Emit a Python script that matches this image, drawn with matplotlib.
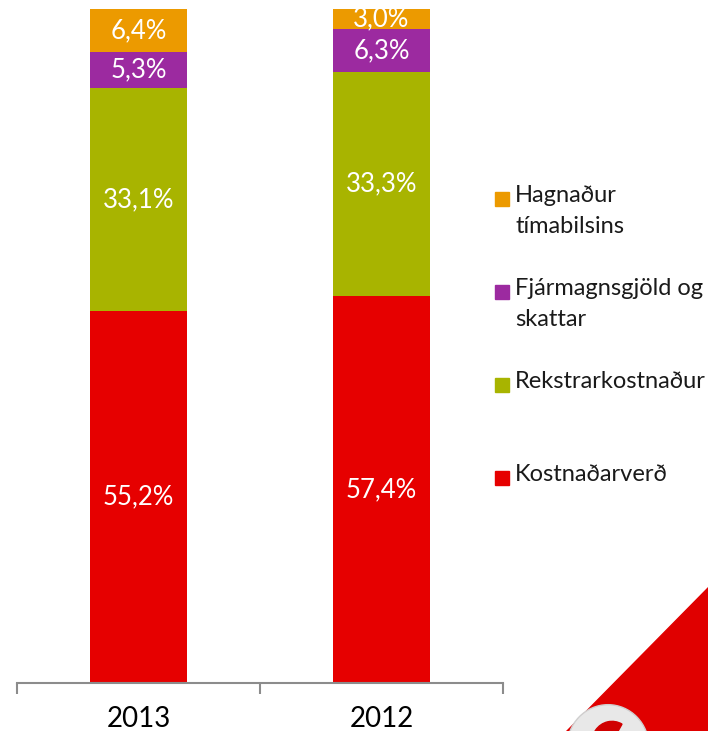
import matplotlib.pyplot as plt
from matplotlib.patches import Polygon, Circle, Rectangle, Wedge

plt.rcParams['font.family'] = ['Lato', 'DejaVu Sans']

years = ['2013', '2012']
series = ['Kostnaðarverð', 'Rekstrarkostnaður', 'Fjármagnsgjöld og\nskattar', 'Hagnaður\ntímabilsins']
kostnadarverd = [55.2, 57.4]
rekstrarkostnadur = [33.1, 33.3]
fjarmagnsgjold = [5.3, 6.3]
hagnadur = [6.4, 3.0]
colors = ['#E60000', '#A8B400', '#9C2AA0', '#EC9A00']

values = [kostnadarverd, rekstrarkostnadur, fjarmagnsgjold, hagnadur]

fig = plt.figure(figsize=(7.08, 7.31), dpi=100)
ax = fig.add_axes([17 / 708, 48 / 731, 486 / 708, 674 / 731])

x = range(len(years))
bottom = [0, 0]
for vals, col, name in zip(values, colors, series):
    ax.bar(x, vals, width=0.4, bottom=bottom, color=col, label=name)
    for xi, v, b in zip(x, vals, bottom):
        ax.text(xi, b + v / 2, f'{v:.1f}%'.replace('.', ','), ha='center', va='center',
                color='white', fontsize=18.5)
    bottom = [b + v for b, v in zip(bottom, vals)]

ax.set_xlim(-0.5, 1.5)
ax.set_ylim(0, 100)
ax.set_yticks([])
for s in ['top', 'right', 'left']:
    ax.spines[s].set_visible(False)
ax.spines['bottom'].set_color('#8c8c8c')
ax.spines['bottom'].set_linewidth(1.5)
ax.set_xticks([-0.5, 0.5, 1.5])
ax.set_xticklabels([])
ax.tick_params(axis='x', length=8, width=1.5, color='#8c8c8c')
for xi, yr in zip(x, years):
    ax.text(xi, -5.3, yr, ha='center', va='center', fontsize=20, color='black')

# legend, drawn top to bottom in reverse stacking order
leg_y = [199, 292, 385, 478]
for yy, col, name in zip(leg_y, colors[::-1], series[::-1]):
    fig.patches.append(Rectangle((495 / 708, 1 - (yy + 7) / 731), 14 / 708, 14 / 731,
                                 transform=fig.transFigure, color=col))
    fig.text(515 / 708, 1 - (yy - 14) / 731, name, ha='left', va='top', fontsize=17,
             color='#1a1a1a', linespacing=1.6)

# decorative corner
fig.patches.append(Polygon([(708 / 708, 1 - 587 / 731), (708 / 708, 0), (566 / 708, 0)],
                           closed=True, transform=fig.transFigure, color='#E00000'))
fig.patches.append(Circle((608 / 708, 1 - 747 / 731), 41 / 708, transform=fig.transFigure,
                          color='#e8e8e8', ec='#cfcfcf', lw=1))
fig.patches.append(Wedge((612 / 708, 1 - 742 / 731), 20 / 708, 60, 230, width=9 / 708,
                         transform=fig.transFigure, color='#D00000'))

fig.savefig('out.png', dpi=100)
